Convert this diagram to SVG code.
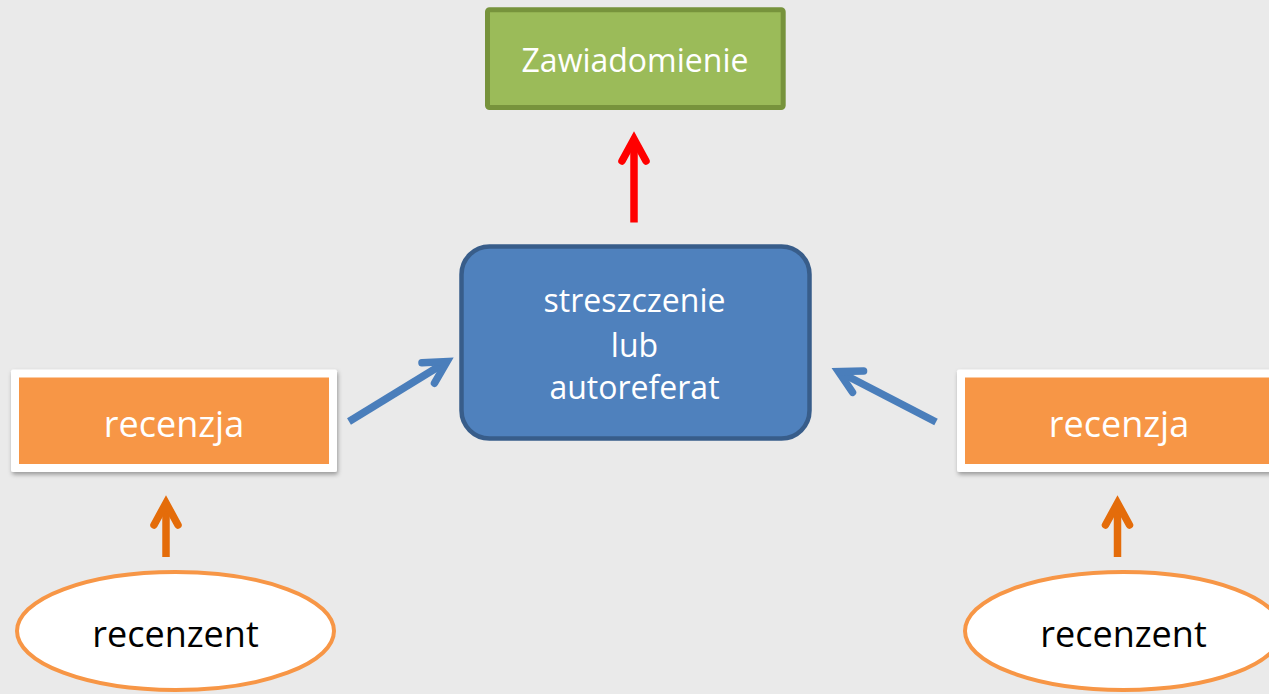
<svg xmlns="http://www.w3.org/2000/svg" width="1269" height="694" viewBox="0 0 1269 694">
  <style>
    .txt { font-family: "Open Sans", "Noto Sans", "Liberation Sans", sans-serif; text-anchor: middle; }
    .white { fill: #FFFFFF; }
    .black { fill: #000000; }
    .green { fill: #9BBB59; stroke: #77933C; stroke-width: 5; }
    .blue { fill: #4F81BD; stroke: #385D8A; stroke-width: 4.5; }
    .frame { fill: #FFFFFF; }
    .orange { fill: #F79646; }
    .oval { fill: #FFFFFF; stroke: #F79646; stroke-width: 4; }
    .conn { fill: none; stroke-width: 7.5; stroke-linecap: butt; }
    .red { stroke: #FF0000; }
    .dark-orange { stroke: #E46C0A; }
    .steel { stroke: #4A7EBB; }
  </style>
  <defs>
    <filter id="shadow" x="-10%" y="-20%" width="120%" height="150%">
      <feDropShadow dx="1" dy="2.5" stdDeviation="2" flood-color="#000000" flood-opacity="0.35"/>
    </filter>
    <marker id="head-red" markerUnits="userSpaceOnUse" orient="auto" markerWidth="60" markerHeight="60" refX="0" refY="0" viewBox="-30 -30 60 60" overflow="visible">
      <path d="M -22,-12 L 0,0 L -22,12" fill="none" stroke="#FF0000" stroke-width="7.5" stroke-linecap="round" stroke-linejoin="miter"/>
    </marker>
    <marker id="head-orange" markerUnits="userSpaceOnUse" orient="auto" markerWidth="60" markerHeight="60" refX="0" refY="0" viewBox="-30 -30 60 60" overflow="visible">
      <path d="M -22,-12 L 0,0 L -22,12" fill="none" stroke="#E46C0A" stroke-width="7.5" stroke-linecap="round" stroke-linejoin="miter"/>
    </marker>
    <marker id="head-blue" markerUnits="userSpaceOnUse" orient="auto" markerWidth="60" markerHeight="60" refX="0" refY="0" viewBox="-30 -30 60 60" overflow="visible">
      <path d="M -22,-12 L 0,0 L -22,12" fill="none" stroke="#4A7EBB" stroke-width="7.5" stroke-linecap="round" stroke-linejoin="miter"/>
    </marker>
  </defs>

  <rect x="0" y="0" width="1269" height="694" fill="#EAEAEA"/>

  <g id="zawiadomienie">
    <rect class="green" x="487.5" y="9.8" width="295.7" height="97.7" rx="2"/>
    <text class="txt white" x="635" y="72" font-size="32">Zawiadomienie</text>
  </g>

  <g id="streszczenie">
    <rect class="blue" x="461.5" y="246.5" width="348" height="192" rx="28"/>
    <text class="txt white" x="634.5" y="312" font-size="32">streszczenie</text>
    <text class="txt white" x="634.5" y="356.5" font-size="32">lub</text>
    <text class="txt white" x="634.5" y="399" font-size="32">autoreferat</text>
  </g>

  <g id="recenzja-left">
    <rect class="frame" x="11" y="369.5" width="326" height="102.5" rx="2" filter="url(#shadow)"/>
    <rect class="orange" x="19" y="377.5" width="310" height="86.5"/>
    <text class="txt white" x="174" y="437" font-size="36">recenzja</text>
  </g>

  <g id="recenzja-right">
    <rect class="frame" x="957" y="369.5" width="326" height="102.5" rx="2" filter="url(#shadow)"/>
    <rect class="orange" x="965" y="377.5" width="310" height="86.5"/>
    <text class="txt white" x="1119" y="437" font-size="36">recenzja</text>
  </g>

  <g id="recenzent-left">
    <ellipse class="oval" cx="175.5" cy="631" rx="158.5" ry="59"/>
    <text class="txt black" x="175.5" y="647" font-size="36">recenzent</text>
  </g>

  <g id="recenzent-right">
    <ellipse class="oval" cx="1123.5" cy="631" rx="158.5" ry="59"/>
    <text class="txt black" x="1123.5" y="647" font-size="36">recenzent</text>
  </g>

  <g id="connectors">
    <line class="conn red" x1="634" y1="222.5" x2="634" y2="139" marker-end="url(#head-red)"/>
    <line class="conn dark-orange" x1="166" y1="557" x2="166" y2="503" marker-end="url(#head-orange)"/>
    <line class="conn dark-orange" x1="1117.5" y1="557" x2="1117.5" y2="503" marker-end="url(#head-orange)"/>
    <line class="conn steel" x1="349" y1="421.5" x2="447" y2="361.5" marker-end="url(#head-blue)"/>
    <line class="conn steel" x1="936" y1="422" x2="838.5" y2="371.5" marker-end="url(#head-blue)"/>
  </g>
</svg>
